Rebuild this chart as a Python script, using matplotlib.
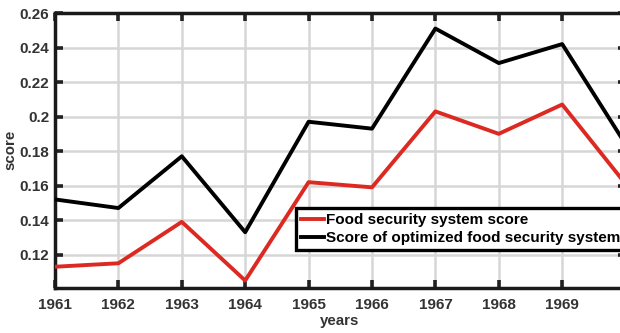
import matplotlib
matplotlib.use("Agg")
import matplotlib.pyplot as plt

plt.rcParams['font.family'] = ['Liberation Sans', 'DejaVu Sans']
plt.rcParams['font.weight'] = 'bold'

years = [1961, 1962, 1963, 1964, 1965, 1966, 1967, 1968, 1969, 1970]
food_score = [0.113, 0.115, 0.139, 0.105, 0.162, 0.159, 0.203, 0.190, 0.207, 0.161]
optimized_score = [0.152, 0.147, 0.177, 0.133, 0.197, 0.193, 0.251, 0.231, 0.242, 0.184]

xtick_values = [1961, 1962, 1963, 1964, 1965, 1966, 1967, 1968, 1969, 1970]
xtick_labels = ['1961', '1962', '1963', '1964', '1965', '1966', '1967', '1968', '1969', '']
ytick_values = [0.12, 0.14, 0.16, 0.18, 0.20, 0.22, 0.24, 0.26]
ytick_labels = ['0.12', '0.14', '0.16', '0.18', '0.2', '0.22', '0.24', '0.26']

series_names = ['Food security system score', 'Score of optimized food security system']

fig = plt.figure(figsize=(6.2, 3.33), dpi=100)
ax = fig.add_axes([0.0887, 0.1342, 0.9203, 0.8267])

red = '#dc2a22'
ax.plot(years, food_score, color=red, lw=2.8, label=series_names[0], zorder=3)
ax.plot(years, optimized_score, color='black', lw=2.8, label=series_names[1], zorder=3)

ax.set_xlim(1961, 1970)
ax.set_ylim(0.1005, 0.26)
ax.set_xticks(xtick_values)
ax.set_xticklabels(xtick_labels)
ax.set_yticks(ytick_values)
ax.set_yticklabels(ytick_labels)

ax.grid(True, color='#d6d6d6', lw=1.8, zorder=0)
ax.set_axisbelow(True)
for s in ax.spines.values():
    s.set_linewidth(2.5)
    s.set_color('#1a1a1a')

ax.tick_params(direction='in', length=6, width=2.6, color='#222222',
               top=True, right=True, labelsize=11)
ax.tick_params(axis='x', pad=7)
ax.tick_params(axis='y', pad=4)
for lab in ax.get_xticklabels() + ax.get_yticklabels():
    lab.set_fontweight('bold')
    lab.set_color('#333333')

fig.text(340 / 620, 1 - 321 / 333, 'years', ha='center', va='center',
         fontsize=10.8, fontweight='bold', color='#333333')
fig.text(10 / 620, 1 - 150 / 333, 'score', ha='center', va='center',
         rotation=90, fontsize=10.8, fontweight='bold', color='#333333')

leg = ax.legend(loc='upper left', bbox_to_anchor=(0.4224, 0.2906),
                borderaxespad=0, handlelength=1.55,
                handletextpad=0.12, borderpad=0.3, labelspacing=0.3,
                fancybox=False, framealpha=1, edgecolor='black',
                prop={'weight': 'bold', 'size': 11.0})
leg.get_frame().set_linewidth(2.4)
for t in leg.get_texts():
    t.set_color('black')

fig.savefig('out.png', dpi=100)
